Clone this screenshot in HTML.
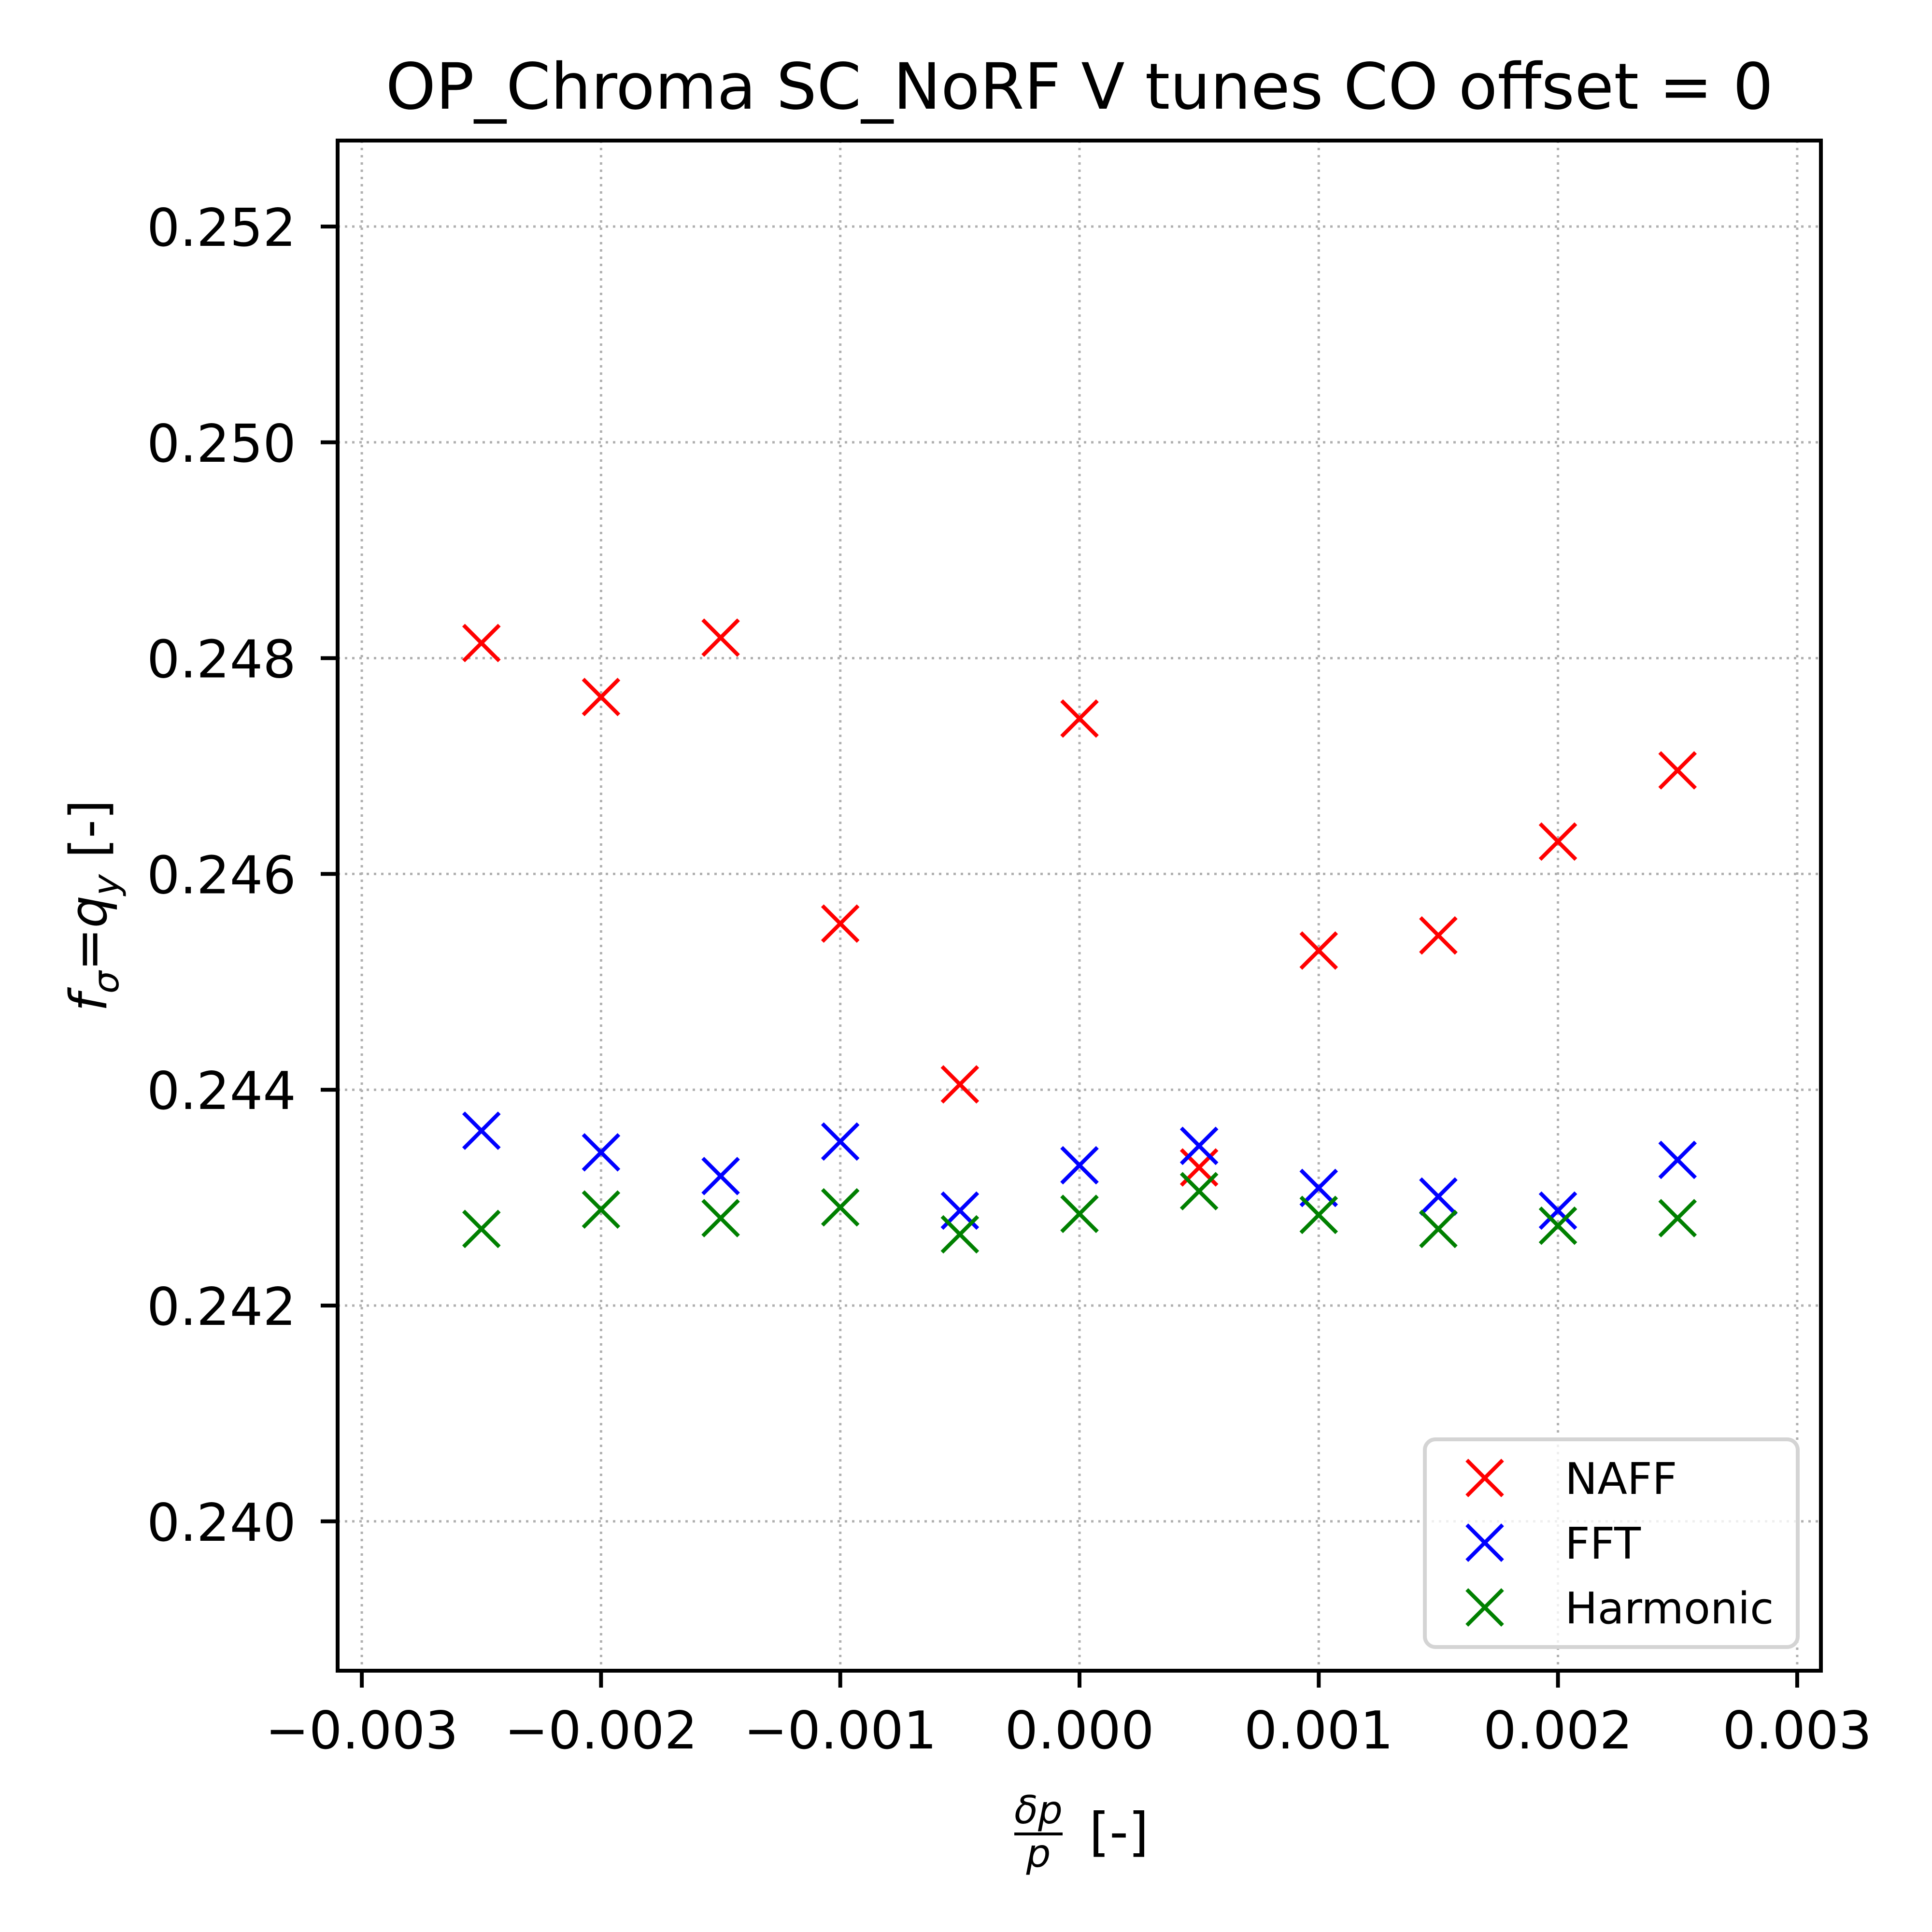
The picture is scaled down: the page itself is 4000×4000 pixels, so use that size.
<!DOCTYPE html>
<html><head><meta charset="utf-8"><style>
html,body{margin:0;padding:0;background:#fff;}
svg{display:block;font-family:"DejaVu Sans","Liberation Sans",sans-serif;}
</style></head>
<body>
<svg id="chart" width="4000" height="4000" viewBox="0 0 4000 4000" xmlns="http://www.w3.org/2000/svg">
<rect width="4000" height="4000" fill="#fff"/>
<g id="grid"></g>
<g id="marks"></g>
<rect x="699" y="291" width="3071" height="3168" fill="none" stroke="#000" stroke-width="8"/>
<g id="ticks"></g>
<text x="2235" y="225" font-size="132" text-anchor="middle">OP_Chroma SC_NoRF V tunes CO offset = 0</text>
<g>
<text x="2150" y="3775" font-size="80" font-style="italic" text-anchor="middle">δp</text>
<line x1="2100" y1="3797" x2="2200" y2="3797" stroke="#000" stroke-width="6"/>
<text x="2150" y="3865" font-size="80" font-style="italic" text-anchor="middle">p</text>
<text x="2255" y="3830" font-size="108">[-]</text>
</g>
<text transform="translate(220,1875) rotate(-90)" font-size="106" text-anchor="middle"><tspan font-style="italic">f</tspan><tspan font-size="74" font-style="italic" dy="25">σ</tspan><tspan dy="-25">=</tspan><tspan font-style="italic">q</tspan><tspan font-size="74" font-style="italic" dy="25">y</tspan><tspan dy="-25"> [-]</tspan></text>
<g>
<rect x="2950" y="2980" width="772" height="430" rx="22" fill="#fff" fill-opacity="0.8" stroke="#d4d4d4" stroke-width="8"/>
<g id="legend-items"></g>
</g>
</svg>
<script>
const xCats = [-0.0025,-0.002,-0.0015,-0.001,-0.0005,0,0.0005,0.001,0.0015,0.002,0.0025];
const naff = [0.24814,0.24764,0.24819,0.24554,0.24405,0.24744,0.24328,0.24529,0.24543,0.24630,0.24696];
const fft = [0.24362,0.24342,0.24320,0.24352,0.24288,0.24330,0.24348,0.24309,0.24301,0.24288,0.24335];
const harmonic = [0.24271,0.24289,0.24281,0.24291,0.24266,0.24285,0.24306,0.24284,0.24271,0.24274,0.24281];
const xTicks = [-0.003,-0.002,-0.001,0,0.001,0.002,0.003];
const xTickLabels = ["\u22120.003","\u22120.002","\u22120.001","0.000","0.001","0.002","0.003"];
const yTicks = [0.240,0.242,0.244,0.246,0.248,0.250,0.252];
const yTickLabels = ["0.240","0.242","0.244","0.246","0.248","0.250","0.252"];
const seriesNames = ["NAFF","FFT","Harmonic"];

const NS="http://www.w3.org/2000/svg";
function X(v){return 2235+v*495300;}
function Y(v){return 469+(0.252-v)*223400;}
function mk(tag,attrs,parent){const e=document.createElementNS(NS,tag);for(const k in attrs)e.setAttribute(k,attrs[k]);parent.appendChild(e);return e;}
const grid=document.getElementById('grid'),ticks=document.getElementById('ticks'),marks=document.getElementById('marks');
xTicks.forEach((t,i)=>{
  const g=mk('line',{x1:X(t),x2:X(t),y1:291,y2:3459,stroke:'#b0b0b0','stroke-width':5,'stroke-dasharray':'5 10'},grid);
  
  
  const tk=mk('line',{x1:X(t),x2:X(t),y1:3459,y2:3494,stroke:'#000','stroke-width':8},ticks);
  
  
  const tl=mk('text',{x:X(t),y:3620,'font-size':108,'text-anchor':'middle'},ticks);
  tl.textContent=xTickLabels[i];
  
  
});
yTicks.forEach((t,i)=>{
  const g=mk('line',{x1:699,x2:3770,y1:Y(t),y2:Y(t),stroke:'#b0b0b0','stroke-width':5,'stroke-dasharray':'5 10'},grid);
  
  
  const tk=mk('line',{x1:664,x2:699,y1:Y(t),y2:Y(t),stroke:'#000','stroke-width':8},ticks);
  
  
  const tl=mk('text',{x:613,y:Y(t)+40,'font-size':108,'text-anchor':'end'},ticks);
  tl.textContent=yTickLabels[i];
  
  
});
function cross(cx,cy,color,parent){
  const s=37;
  const g=mk('path',{d:`M${cx-s},${cy-s}L${cx+s},${cy+s}M${cx-s},${cy+s}L${cx+s},${cy-s}`,stroke:color,'stroke-width':8,fill:'none'},parent);
  return g;
}
const seriesData=[naff,fft,harmonic];
const colors=['#ff0000','#0000ff','#008000'];
seriesData.forEach((arr,si)=>{
  arr.forEach((v,i)=>{
    const m=cross(X(xCats[i]),Y(v),colors[si],marks);
    
    
  });
});
const li=document.getElementById('legend-items');
seriesNames.forEach((n,i)=>{
  const y=3060+i*134;
  const m=cross(3074,y,colors[i],li);
  
  
  const t=mk('text',{x:3240,y:y+33,'font-size':90},li);
  t.textContent=n;
  
  
});
</script>
</body></html>
